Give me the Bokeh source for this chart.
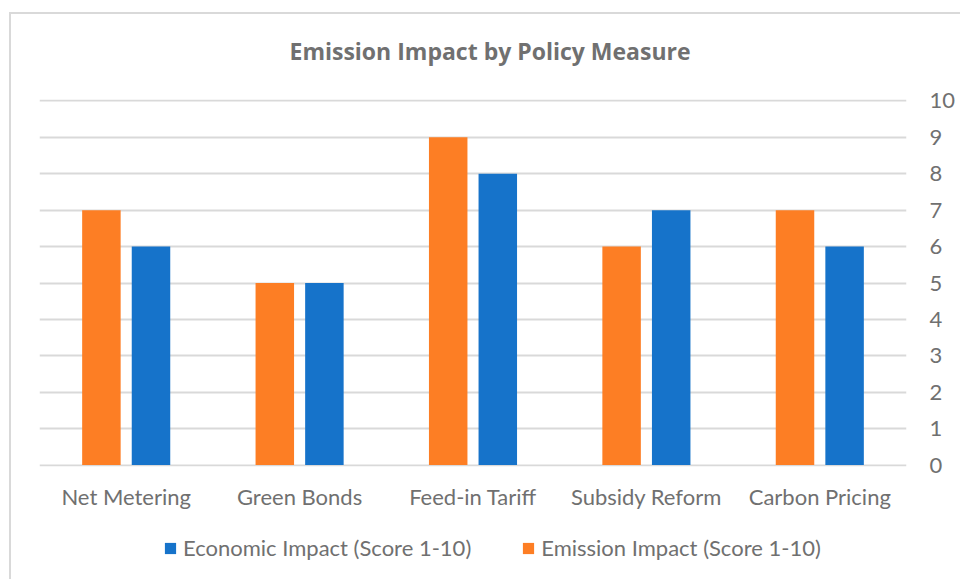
from bokeh.plotting import figure
from bokeh.layouts import column
from bokeh.models import (FactorRange, Range1d, ColumnDataSource, FixedTicker,
                          Legend, LegendItem, InlineStyleSheet)
from bokeh.transform import dodge
from bokeh.embed import file_html
from bokeh.resources import INLINE

categories = ["Net Metering", "Green Bonds", "Feed-in Tariff", "Subsidy Reform", "Carbon Pricing"]
emission = [7, 5, 9, 6, 7]
economic = [6, 5, 8, 7, 6]
y_ticks = [0, 1, 2, 3, 4, 5, 6, 7, 8, 9, 10]

FONT = "Lato"
TXT = "#707070"
GRID = "#d9d9d9"
ORANGE = "#FD7E24"
BLUE = "#1673CA"

src = ColumnDataSource(dict(cat=categories, emission=emission, economic=economic))

p = figure(width=960, height=520, output_backend="svg", toolbar_location=None,
           x_range=FactorRange(*categories, range_padding=0), y_range=Range1d(-0.04, 10.04),
           y_axis_location="right",
           min_border_left=39, min_border_right=54, min_border_top=98, min_border_bottom=54)
p.outline_line_color = None

r_em = p.vbar(x=dodge("cat", -0.143, range=p.x_range), top="emission", width=0.222,
              source=src, fill_color=ORANGE, line_color=None)
r_ec = p.vbar(x=dodge("cat", 0.143, range=p.x_range), top="economic", width=0.222,
              source=src, fill_color=BLUE, line_color=None)

# grid
p.xgrid.grid_line_color = None
p.ygrid.grid_line_color = GRID
p.ygrid.grid_line_width = 1.8
p.ygrid.ticker = FixedTicker(ticks=y_ticks)
p.ygrid.level = "underlay"

# right axis
ya = p.yaxis[0]
ya.ticker = FixedTicker(ticks=y_ticks)
ya.axis_line_color = None
ya.major_tick_line_color = None
ya.minor_tick_line_color = None
ya.major_tick_out = 0
ya.major_tick_in = 0
ya.major_label_standoff = 23
ya.major_label_text_font = FONT
ya.major_label_text_font_size = "22px"
ya.major_label_text_color = TXT

xa = p.xaxis[0]
xa.axis_line_color = None
xa.major_tick_line_color = None
xa.minor_tick_line_color = None
xa.major_tick_out = 0
xa.major_tick_in = 0
xa.major_label_standoff = 16
xa.major_label_text_font = FONT
xa.major_label_text_font_size = "22px"
xa.major_label_text_color = TXT

# title
p.title.text = "Emission Impact by Policy Measure"
p.title.text_font = "Open Sans"
p.title.text_font_size = "23px"
p.title.text_font_style = "bold"
p.title.text_color = TXT
p.title.align = "left"
p.title.offset = 250
p.title.standoff = 65

# legend strip below the chart (its bars sit outside its visible range)
pl = figure(width=960, height=59, output_backend="svg", toolbar_location=None,
            x_range=FactorRange(*categories), y_range=Range1d(100, 101),
            x_axis_location=None, y_axis_location=None,
            min_border_left=0, min_border_right=0, min_border_top=0, min_border_bottom=0)
pl.outline_line_color = None
pl.grid.visible = False
d_ec = pl.vbar(x="cat", top="economic", width=0.2, source=src, fill_color=BLUE, line_color=None)
d_em = pl.vbar(x="cat", top="emission", width=0.2, source=src, fill_color=ORANGE, line_color=None)

legend = Legend(items=[LegendItem(label="Economic Impact (Score 1-10)", renderers=[d_ec]),
                       LegendItem(label="Emission Impact (Score 1-10)", renderers=[d_em])],
                orientation="horizontal", location=(124, 18),
                label_text_font=FONT, label_text_font_size="22px", label_text_color=TXT,
                glyph_width=14, glyph_height=14, label_standoff=6, spacing=50,
                label_height=20, padding=0, margin=0,
                border_line_color=None, background_fill_alpha=0)
pl.add_layout(legend)

layout = column(p, pl, spacing=0)
layout.stylesheets = [InlineStyleSheet(css=(
    ":host { position: relative; overflow: hidden; }"
    ":host::after { content: ''; position: absolute; left: 9px; top: 12px; z-index: 10; "
    "width: 1000px; height: 700px; border: 2px solid #d9d9d9; pointer-events: none; }"))]

open("out.html", "w").write(file_html(layout, INLINE))
